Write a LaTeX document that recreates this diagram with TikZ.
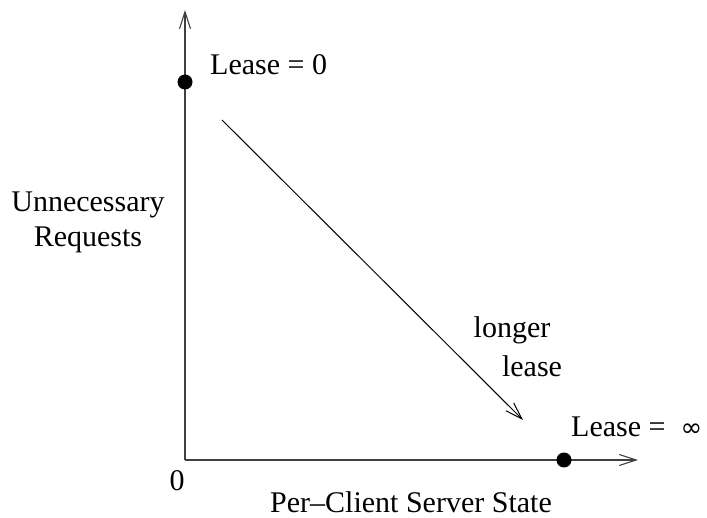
\documentclass[tikz,border=0pt]{standalone}
\usepackage{fontspec}
\setmainfont{Liberation Serif}
\usetikzlibrary{arrows.meta}
\begin{document}
\begin{tikzpicture}[x=1pt,y=-1pt,
  axis/.style={line width=1.3pt,draw=black!75,-{Straight Barb[length=17pt,width=11pt,line width=1.1pt]}},
  trend/.style={line width=1pt,-{Straight Barb[length=17pt,width=11pt,line width=1pt]}},
  lbl/.style={font=\fontsize{30}{34}\selectfont,inner sep=0pt,anchor=base},
  dot/.style={circle,fill=black,inner sep=0pt,minimum size=15pt}]
\useasboundingbox (0,0) rectangle (707,518);
% axes
\coordinate (O) at (185,460);
\coordinate (ytop) at (185,10);
\coordinate (xend) at (638,460);
\draw[axis] (O) -- (ytop);
\draw[axis] (O) -- (xend);
% end points of the trade-off
\node[dot] (zero) at (185,82) {};
\node[dot] (inf) at (564,460) {};
% trend arrow
\coordinate (tstart) at (222,120);
\coordinate (tend) at (523,420);
\draw[trend] (tstart) -- (tend);
% labels
\node[lbl,anchor=base west] (l0) at (210,75) {Lease = 0};
\node[lbl,anchor=base west] (linf) at (571,437) {Lease = \ {\fontspec{DejaVu Sans}\fontsize{26}{30}\selectfont ∞}};
\node[lbl] (ylab1) at (88,212) {Unnecessary};
\node[lbl] (ylab2) at (88,247) {Requests};
\node[lbl] (long1) at (512,338) {longer};
\node[lbl] (long2) at (532,377) {lease};
\node[lbl] (orig) at (177,490) {0};
\node[lbl] (xlab) at (411,512) {Per–Client Server State};
\end{tikzpicture}
\end{document}
